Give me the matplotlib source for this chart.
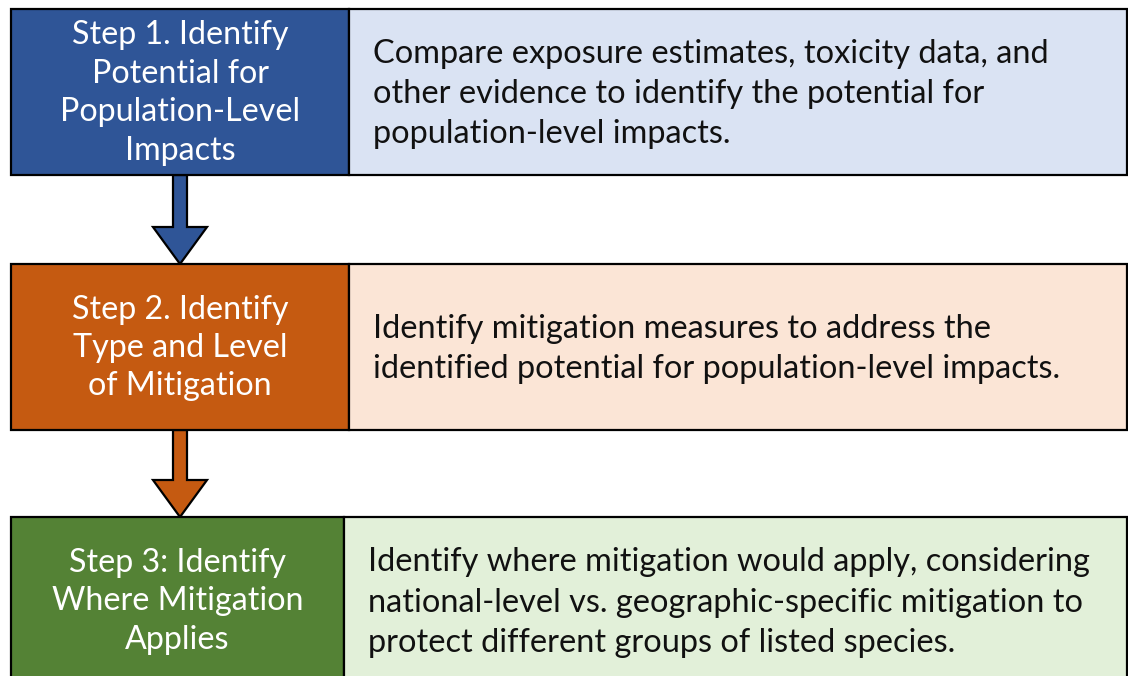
import matplotlib.pyplot as plt
from matplotlib.patches import Rectangle, Polygon

# step labels, descriptions and colours for the three rows
step_labels = [
    "Step 1. Identify\nPotential for\nPopulation-Level\nImpacts",
    "Step 2. Identify\nType and Level\nof Mitigation",
    "Step 3: Identify\nWhere Mitigation\nApplies",
]
step_text = [
    "Compare exposure estimates, toxicity data, and\nother evidence to identify the potential for\npopulation-level impacts.",
    "Identify mitigation measures to address the\nidentified potential for population-level impacts.",
    "Identify where mitigation would apply, considering\nnational-level vs. geographic-specific mitigation to\nprotect different groups of listed species.",
]
dark_colors = ["#2F5597", "#C55A11", "#548235"]
light_colors = ["#DAE3F3", "#FBE5D6", "#E2F0D9"]

# layout in pixels
W, H = 1128, 676
row_top = [9, 264, 517]
row_bot = [175, 430, 684]
split_x = [349, 349, 344]
left_x = 11
right_x = 1127

fig = plt.figure(figsize=(W / 100, H / 100), dpi=100)
ax = fig.add_axes([0, 0, 1, 1])
ax.set_xlim(0, W)
ax.set_ylim(H, 0)
ax.axis("off")

font = "Lato"

for i in range(3):
    t, b, sx = row_top[i], row_bot[i], split_x[i]
    ax.add_patch(Rectangle((left_x, t), sx - left_x, b - t, facecolor=dark_colors[i],
                           edgecolor="black", lw=1.6, zorder=2))
    ax.add_patch(Rectangle((sx, t), right_x - sx, b - t, facecolor=light_colors[i],
                           edgecolor="black", lw=1.6, zorder=2))
    ax.text((left_x + sx) / 2, (t + b) / 2 + 1, step_labels[i], color="white",
            fontsize=23.2, family=font, ha="center", va="center",
            linespacing=1.35, zorder=3)
    ax.text(sx + 24, (t + b) / 2 + 2, step_text[i], color="#111111",
            fontsize=23.4, family=font, ha="left", va="center",
            linespacing=1.43, zorder=3)

# down arrows between the rows
cx = 180
for i in range(2):
    y0 = row_bot[i]
    y1 = row_top[i + 1]
    head = 37
    sw, hw = 7, 27
    pts = [(cx - sw, y0), (cx + sw, y0), (cx + sw, y1 - head), (cx + hw, y1 - head),
           (cx, y1), (cx - hw, y1 - head), (cx - sw, y1 - head)]
    ax.add_patch(Polygon(pts, closed=True, facecolor=dark_colors[i],
                         edgecolor="black", lw=1.6, zorder=1))

fig.savefig("out.png", dpi=100)
